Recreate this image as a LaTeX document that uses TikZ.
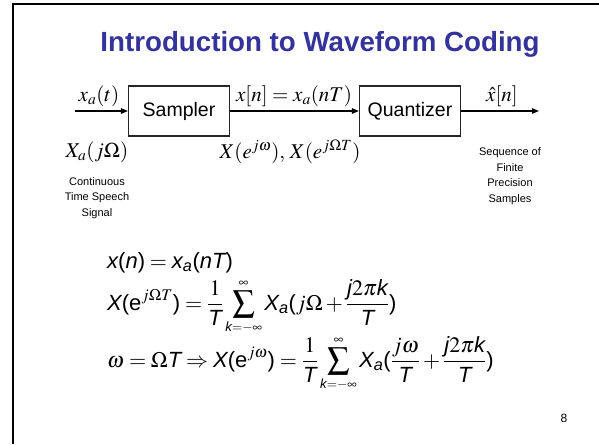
\documentclass[tikz,border=0pt]{standalone}
\usepackage{amsmath}
\usepackage{mathptmx}
\usepackage[no-math]{fontspec}
\setmainfont{Liberation Sans}
\usepackage{xcolor}
\usepackage{tikz}
\usetikzlibrary{arrows.meta}
\definecolor{slideblue}{RGB}{51,51,153}
\newcommand{\av}[1]{\textit{#1}}
\newcommand{\op}{\textup{(}}
\newcommand{\cp}{\textup{)}}
\newcommand{\ksum}{\sum_{\scriptscriptstyle\av{k}=-\infty}^{\scriptscriptstyle\infty}}

\begin{document}
\begin{tikzpicture}[x=1pt, y=-1pt,
    block/.style={
        draw=black!85,
        line width=1.1pt,
        minimum width=101pt,
        minimum height=50pt,
        inner sep=0pt,
        font=\fontsize{19.5}{22}\selectfont
    },
    flow/.style={-{Triangle[length=7pt,width=5.5pt]}, line width=1.3pt},
    sig/.style={font=\fontsize{21}{24}\selectfont},
    note/.style={align=center, font=\fontsize{11}{15.5}\selectfont},
    eqn/.style={anchor=base west, inner sep=0pt, font=\fontsize{22}{26}\selectfont}
]
\useasboundingbox (0,0) rectangle (599,444);
\draw[line width=2.6pt] (13,444) -- (13,4) -- (599,4);

\node[font=\bfseries\fontsize{27.7}{30}\selectfont, text=slideblue, anchor=base] (title) at (320,52) {Introduction to Waveform Coding};

\coordinate (in) at (75,111);
\node[block] (sampler) at (179,111) {Sampler};
\node[block] (quant) at (410,111) {Quantizer};
\coordinate (out) at (539,111);

\draw[flow] (in) -- (sampler);
\draw[flow] (sampler) -- (quant);
\draw[flow] (quant) -- (out);

\node[sig] (xa) at (99,96) {$x_a(t)$};
\node[sig] (xn) at (294,96) {$x[n]=x_a(nT)$};
\node[sig] (xq) at (502,96) {$\hat{x}[n]$};
\node[sig] (Xa) at (97,152) {$X_a(j\Omega)$};
\node[sig] (Xw) at (290,152) {$X(e^{j\omega}),\,X(e^{j\Omega T})$};

\node[note] (cts) at (97,198) {Continuous\\Time Speech\\Signal};
\node[note] (fin) at (510,176) {Sequence of\\Finite\\Precision\\Samples};

\node[eqn] (eq1) at (107,268)
    {$\av{x}\op\av{n}\cp = \av{x}_{\av{a}}\op\av{n}\av{T}\cp$};
\node[eqn] (eq2) at (107,310)
    {$\displaystyle \av{X}\op\textup{e}^{j\Omega T}\cp = \frac{1}{\av{T}}\ksum\av{X}_{\av{a}}\op j\Omega + \frac{\av{j}2\pi\av{k}}{\av{T}}\cp$};
\node[eqn] (eq3) at (107,367)
    {$\displaystyle \omega = \Omega\av{T} \Rightarrow \av{X}\op\textup{e}^{j\omega}\cp = \frac{1}{\av{T}}\ksum\av{X}_{\av{a}}\op\frac{j\omega}{\av{T}} + \frac{\av{j}2\pi\av{k}}{\av{T}}\cp$};

\node[font=\fontsize{12}{14}\selectfont] (page) at (564,418) {8};
\end{tikzpicture}
\end{document}
